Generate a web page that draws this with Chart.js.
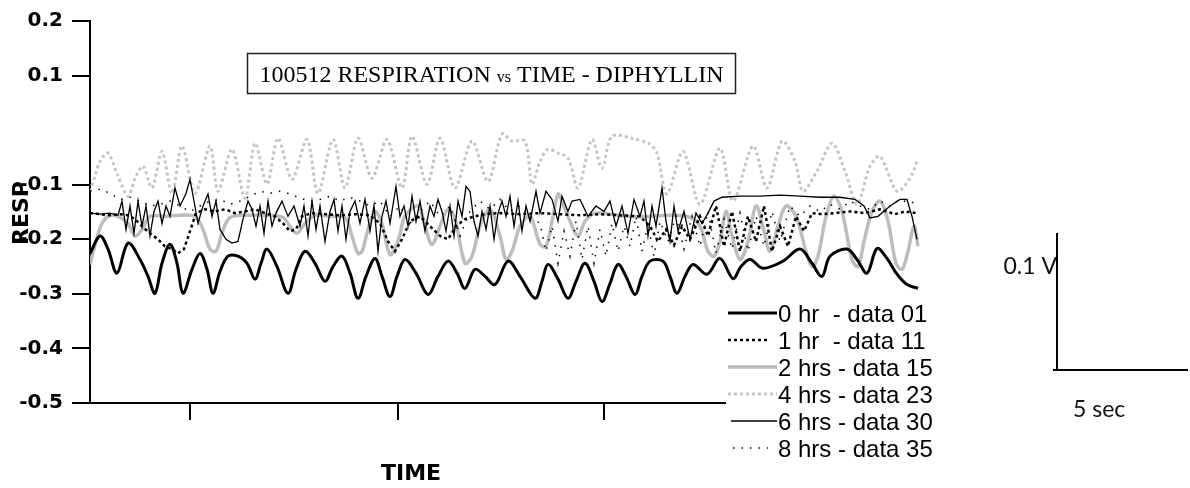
<!DOCTYPE html>
<html lang="en">
<head>
<meta charset="UTF-8" />
<title>100512 RESPIRATION vs TIME - DIPHYLLIN</title>
<script src="https://cdn.jsdelivr.net/npm/chart.js"></script>
<style>
  body { margin: 0; background: #fff; }
  #wrap { width: 1190px; height: 488px; }
</style>
</head>
<body>
<div id="wrap"><canvas id="resp" width="1190" height="488"></canvas></div>
<script>
// tick positions (y in volts, x in time units; x labels are not shown)
const yTicks = [0.2, 0.1, -0.1, -0.2, -0.3, -0.4, -0.5];
const xTicks = [10, 30.8, 51.4, 72];

const seriesLabels = ['0 hr  - data 01', '1 hr  - data 11', '2 hrs - data 15',
                      '4 hrs - data 23', '6 hrs - data 30', '8 hrs - data 35'];

// [time, resp]
const hr0 = [[0,-0.226],[1,-0.194],[1.8,-0.218],[2.7,-0.262],[3.8,-0.207],[5,-0.237],[5.8,-0.268],[6.5,-0.299],
  [7.2,-0.244],[8,-0.209],[8.7,-0.244],[9.3,-0.299],[10.2,-0.255],[11,-0.226],[11.7,-0.255],[12.3,-0.299],
  [13,-0.259],[13.8,-0.231],[14.8,-0.231],[15.7,-0.244],[16.5,-0.273],[17.1,-0.244],[17.7,-0.218],[18.7,-0.250],
  [19.8,-0.299],[20.6,-0.255],[21.5,-0.222],[22.5,-0.244],[23.5,-0.277],[24.3,-0.250],[25.2,-0.231],[26,-0.262],
  [26.8,-0.308],[27.6,-0.268],[28.5,-0.235],[29.2,-0.268],[30,-0.305],[30.7,-0.268],[31.5,-0.237],[32.6,-0.262],
  [33.8,-0.301],[34.8,-0.268],[35.8,-0.240],[36.7,-0.262],[37.5,-0.290],[38.5,-0.255],[39.5,-0.268],[40.5,-0.283],
  [41.8,-0.240],[43,-0.268],[44.5,-0.308],[45.2,-0.277],[45.8,-0.246],[46.8,-0.273],[47.8,-0.308],[48.6,-0.277],
  [49.5,-0.244],[50.4,-0.277],[51.2,-0.314],[52,-0.281],[52.8,-0.246],[53.6,-0.268],[54.5,-0.301],[55.2,-0.268],
  [56,-0.240],[57.3,-0.240],[58,-0.268],[58.7,-0.299],[59.5,-0.268],[60.3,-0.246],[61.7,-0.264],[63,-0.235],
  [64.3,-0.272],[65.1,-0.250],[66,-0.237],[67.3,-0.253],[69.3,-0.240],[71,-0.218],[72.2,-0.244],[73.2,-0.268],
  [74,-0.231],[75.7,-0.218],[76.7,-0.237],[77.7,-0.262],[78.7,-0.217],[79.7,-0.235],[80.7,-0.264],[81.7,-0.283],
  [82.8,-0.290]];

const hr1 = [[0,-0.152],[1,-0.154],[2,-0.156],[3,-0.154],[3.8,-0.156],[4.5,-0.163],[5.2,-0.176],[6,-0.189],
  [6.8,-0.200],[7.5,-0.213],[8.2,-0.218],[8.8,-0.226],[9.4,-0.218],[10,-0.185],[10.6,-0.152],[11.5,-0.145],
  [12.5,-0.149],[13.5,-0.145],[14.5,-0.152],[15.5,-0.149],[16.5,-0.145],[17.5,-0.152],[18.5,-0.158],[19.3,-0.171],
  [20,-0.185],[20.6,-0.182],[21.2,-0.158],[22.2,-0.152],[23.5,-0.154],[25,-0.156],[26.5,-0.154],[28,-0.156],
  [29,-0.171],[29.8,-0.204],[30.5,-0.222],[31.2,-0.200],[32,-0.167],[33,-0.158],[34,-0.176],[35,-0.194],
  [35.8,-0.200],[36.6,-0.176],[37.5,-0.163],[38.5,-0.158],[39.5,-0.154],[41,-0.152],[43,-0.154],[45,-0.152],
  [47,-0.154],[49,-0.156],[51,-0.154],[53,-0.156],[55,-0.158],[56,-0.176],[56.8,-0.204],[57.6,-0.182],
  [58.4,-0.211],[59.2,-0.176],[60,-0.200],[61,-0.158],[61.8,-0.194],[62.6,-0.139],[63.4,-0.213],[64.2,-0.149],
  [65,-0.222],[65.8,-0.158],[66.6,-0.204],[67.4,-0.139],[68.2,-0.222],[69,-0.176],[69.8,-0.213],[70.6,-0.158],
  [71.4,-0.185],[72.2,-0.152],[73.2,-0.154],[74.5,-0.152],[76,-0.149],[77.5,-0.152],[79,-0.145],[80.5,-0.154],
  [81.5,-0.149],[82.7,-0.152]];

const hr2 = [[0,-0.246],[0.6,-0.204],[1.2,-0.171],[2,-0.156],[3,-0.160],[3.8,-0.171],[4.5,-0.194],[5.2,-0.182],
  [6,-0.158],[7.5,-0.158],[9,-0.156],[10.5,-0.158],[11.3,-0.182],[12,-0.218],[12.6,-0.222],[13.2,-0.189],
  [14,-0.160],[16,-0.156],[18,-0.156],[19.3,-0.160],[20,-0.176],[20.7,-0.189],[21.5,-0.171],[22.5,-0.156],
  [24,-0.158],[25.5,-0.160],[26.2,-0.194],[26.8,-0.226],[27.2,-0.222],[27.8,-0.182],[28.5,-0.149],[29.2,-0.171],
  [30,-0.228],[30.8,-0.204],[31.5,-0.158],[32.8,-0.139],[33.5,-0.176],[34.2,-0.209],[35,-0.176],[35.8,-0.145],
  [36.5,-0.163],[37.5,-0.244],[38.2,-0.231],[39,-0.176],[40,-0.145],[41,-0.194],[41.6,-0.237],[42.2,-0.222],
  [43,-0.176],[44,-0.158],[45,-0.209],[45.6,-0.213],[46.2,-0.167],[46.8,-0.117],[47.2,-0.130],[47.8,-0.158],
  [48.8,-0.194],[49.5,-0.167],[50.5,-0.152],[52,-0.154],[54,-0.158],[56,-0.158],[58,-0.156],[60,-0.160],
  [61,-0.176],[61.8,-0.222],[62.4,-0.231],[63,-0.204],[63.6,-0.149],[64.2,-0.194],[65,-0.237],[65.8,-0.204],
  [66.6,-0.139],[67.4,-0.185],[68,-0.222],[68.8,-0.176],[69.6,-0.139],[70.6,-0.158],[71.6,-0.222],[72.2,-0.250],
  [72.8,-0.231],[73.6,-0.158],[74.4,-0.121],[75.2,-0.149],[76.2,-0.237],[76.8,-0.250],[77.4,-0.204],[78.2,-0.149],
  [79,-0.130],[79.8,-0.167],[80.6,-0.244],[81.2,-0.255],[81.8,-0.222],[82.4,-0.176],[82.8,-0.213]];

const hr4 = [[0,-0.112],[0.5,-0.084],[1,-0.057],[1.8,-0.042],[2.8,-0.084],[3.8,-0.121],[4.6,-0.084],[5.3,-0.066],
  [6.2,-0.106],[7.2,-0.039],[8.2,-0.116],[9.2,-0.029],[10.5,-0.116],[12,-0.029],[12.8,-0.112],[14.2,-0.035],
  [15.5,-0.125],[16.5,-0.024],[17.7,-0.099],[18.8,-0.015],[20.2,-0.090],[21.7,-0.017],[22.8,-0.116],[24.3,-0.017],
  [25.5,-0.106],[26.8,-0.015],[28.2,-0.088],[29.7,-0.017],[31.2,-0.106],[32.2,-0.011],[33.7,-0.099],[35,-0.015],
  [36.5,-0.106],[38.2,-0.020],[39.8,-0.094],[41.2,-0.007],[42.2,-0.020],[43.5,-0.020],[44.2,-0.099],[45,-0.057],
  [45.8,-0.035],[46.8,-0.042],[47.8,-0.051],[48.8,-0.106],[50.2,-0.017],[51.2,-0.070],[52.2,-0.011],[54.2,-0.015],
  [56,-0.026],[56.7,-0.042],[57.7,-0.117],[59.3,-0.039],[61,-0.136],[63,-0.033],[64.3,-0.130],[66.3,-0.029],
  [67.7,-0.106],[69.2,-0.020],[70.5,-0.057],[71.3,-0.112],[72.7,-0.075],[74.2,-0.024],[75.5,-0.075],[76.7,-0.136],
  [78,-0.066],[79,-0.048],[80.7,-0.112],[82,-0.088],[82.7,-0.057]];

const hr6 = [[0,-0.152],[1,-0.154],[2,-0.152],[2.8,-0.156],[3.2,-0.130],[3.6,-0.182],[4,-0.139],[4.4,-0.189],
  [4.8,-0.130],[5.2,-0.176],[5.6,-0.139],[6,-0.194],[6.4,-0.149],[6.8,-0.130],[7.2,-0.171],[7.6,-0.139],
  [8,-0.158],[8.5,-0.106],[9,-0.139],[9.6,-0.116],[10,-0.090],[10.4,-0.130],[10.8,-0.171],[11.3,-0.139],
  [11.8,-0.117],[12.2,-0.158],[12.6,-0.130],[13,-0.182],[13.6,-0.200],[14.2,-0.207],[14.8,-0.204],[15.3,-0.163],
  [15.8,-0.130],[16.2,-0.145],[16.6,-0.176],[17,-0.139],[17.4,-0.189],[17.8,-0.130],[18.2,-0.176],[18.6,-0.152],
  [19.2,-0.130],[19.8,-0.158],[20.4,-0.139],[21,-0.176],[21.4,-0.139],[21.8,-0.194],[22.2,-0.130],[22.6,-0.182],
  [23,-0.139],[23.5,-0.204],[24,-0.149],[24.4,-0.127],[24.8,-0.185],[25.2,-0.139],[25.6,-0.200],[26,-0.149],
  [26.5,-0.130],[27,-0.171],[27.5,-0.127],[28,-0.185],[28.4,-0.138],[28.8,-0.222],[29.2,-0.158],[29.6,-0.130],
  [30,-0.171],[30.6,-0.103],[31,-0.158],[31.4,-0.139],[31.8,-0.176],[32.2,-0.121],[32.6,-0.167],[33,-0.130],
  [33.5,-0.185],[34,-0.139],[34.4,-0.158],[34.8,-0.127],[35.2,-0.149],[35.6,-0.185],[36,-0.139],[36.4,-0.194],
  [36.8,-0.130],[37.2,-0.158],[37.6,-0.103],[38,-0.112],[38.4,-0.167],[38.8,-0.194],[39.2,-0.149],[39.6,-0.182],
  [40,-0.139],[40.4,-0.200],[40.8,-0.152],[41.2,-0.130],[41.6,-0.158],[42,-0.121],[42.4,-0.176],[42.8,-0.130],
  [43.2,-0.185],[43.6,-0.139],[44,-0.167],[44.6,-0.112],[45,-0.152],[45.6,-0.112],[46.2,-0.127],[46.8,-0.167],
  [47.2,-0.121],[47.8,-0.149],[48.2,-0.130],[49,-0.127],[49.8,-0.158],[50.6,-0.139],[51.4,-0.149],[52,-0.130],
  [52.6,-0.176],[53.2,-0.139],[53.8,-0.189],[54.4,-0.127],[55,-0.158],[55.4,-0.130],[55.8,-0.194],[56.2,-0.139],
  [56.6,-0.176],[57.2,-0.106],[57.6,-0.167],[58,-0.204],[58.4,-0.139],[58.8,-0.185],[59.4,-0.149],[60,-0.200],
  [60.6,-0.152],[61.2,-0.171],[61.8,-0.152],[62.4,-0.130],[63.2,-0.123],[65,-0.121],[67,-0.121],[69,-0.119],
  [71,-0.121],[73,-0.123],[75,-0.123],[76.5,-0.127],[77.4,-0.139],[78,-0.161],[78.8,-0.158],[80,-0.139],
  [81,-0.127],[81.7,-0.127],[82.2,-0.158],[82.7,-0.200]];

const hr8 = [[0,-0.112],[1,-0.108],[2,-0.116],[3,-0.127],[4,-0.123],[5,-0.130],[6,-0.139],[7,-0.136],
  [8,-0.130],[9,-0.139],[10,-0.149],[11,-0.139],[12,-0.130],[13,-0.127],[14,-0.136],[15,-0.130],
  [16,-0.121],[17,-0.112],[18,-0.116],[19,-0.112],[20,-0.117],[21,-0.125],[22,-0.130],[23,-0.127],
  [24,-0.121],[25,-0.130],[26,-0.123],[27,-0.130],[28,-0.139],[29,-0.130],[30,-0.158],[31,-0.139],
  [32,-0.171],[33,-0.149],[34,-0.130],[35,-0.158],[36,-0.139],[37,-0.194],[38,-0.149],[39,-0.130],
  [40,-0.145],[41,-0.127],[42,-0.149],[43,-0.139],[44,-0.158],[45,-0.171],[45.6,-0.222],[46.2,-0.176],
  [46.8,-0.244],[47.4,-0.185],[48,-0.231],[48.6,-0.167],[49.2,-0.237],[49.8,-0.176],[50.4,-0.244],[51,-0.182],
  [51.6,-0.231],[52.2,-0.171],[52.8,-0.222],[53.4,-0.176],[54,-0.213],[54.6,-0.158],[55.2,-0.222],[55.8,-0.171],
  [56.4,-0.231],[57,-0.167],[57.8,-0.204],[58.6,-0.158],[59.4,-0.218],[60.2,-0.158],[61,-0.213],[61.8,-0.149],
  [62.6,-0.226],[63.4,-0.163],[64.2,-0.218],[65,-0.152],[65.8,-0.222],[66.6,-0.158],[67.4,-0.213],[68.2,-0.149],
  [69,-0.204],[70,-0.139],[71,-0.158],[72,-0.139],[73,-0.149],[74,-0.136],[75,-0.145],[76,-0.130],
  [77,-0.139],[78,-0.145],[79,-0.130],[80,-0.139],[81,-0.127],[82,-0.134],[82.7,-0.130]];

const toXY = pairs => pairs.map(([x, y]) => ({ x, y }));

// title box, axis names, legend and the scale bar
const overlayPlugin = {
  id: 'overlay',
  afterDraw(chart) {
    const ctx = chart.ctx;
    ctx.save();

    // title box
    ctx.fillStyle = '#fff';
    ctx.fillRect(247, 53, 489, 41);
    ctx.strokeStyle = '#222';
    ctx.lineWidth = 1.5;
    ctx.strokeRect(247.5, 53.5, 488, 40);
    const parts = [['100512 RESPIRATION ', 24], ['vs', 16], [' TIME - DIPHYLLIN', 24]];
    let total = 0;
    parts.forEach(([t, s]) => { ctx.font = s + 'px "Liberation Serif"'; total += ctx.measureText(t).width; });
    let tx = 491.5 - total / 2;
    ctx.fillStyle = '#000';
    ctx.textBaseline = 'alphabetic';
    ctx.textAlign = 'left';
    parts.forEach(([t, s]) => {
      ctx.font = s + 'px "Liberation Serif"';
      ctx.fillText(t, tx, 82);
      tx += ctx.measureText(t).width;
    });

    // axis names
    ctx.font = 'bold 22px "DejaVu Sans"';
    ctx.textAlign = 'center';
    ctx.fillText('TIME', 411, 480);
    ctx.save();
    ctx.translate(28, 213);
    ctx.rotate(-Math.PI / 2);
    ctx.fillText('RESP', 0, 0);
    ctx.restore();

    // legend
    ctx.fillStyle = '#fff';
    ctx.fillRect(726, 299, 222, 162);
    ctx.textAlign = 'left';
    const starts = [728, 728, 728, 728, 731, 733];
    const ends = [777, 770, 777, 777, 777, 768];
    chart.data.datasets.forEach((ds, i) => {
      const y = 313 + i * 27;
      ctx.beginPath();
      ctx.setLineDash(ds.borderDash || []);
      ctx.lineWidth = ds.borderWidth;
      ctx.strokeStyle = ds.borderColor;
      ctx.moveTo(starts[i], y);
      ctx.lineTo(ends[i], y);
      ctx.stroke();
      ctx.setLineDash([]);
      ctx.fillStyle = '#000';
      ctx.font = '24px "Liberation Sans"';
      ctx.fillText(ds.label, 778, y + 9);
    });

    // scale bar
    ctx.strokeStyle = '#000';
    ctx.lineWidth = 2;
    ctx.beginPath();
    ctx.moveTo(1057, 233);
    ctx.lineTo(1057, 370);
    ctx.moveTo(1053, 370);
    ctx.lineTo(1188, 370);
    ctx.stroke();
    ctx.fillStyle = '#111';
    ctx.font = '23px Lato';
    ctx.textAlign = 'right';
    ctx.fillText('0.1 V', 1057, 274);
    ctx.textAlign = 'left';
    ctx.fillText('5 sec', 1073, 417);

    ctx.restore();
  }
};

new Chart(document.getElementById('resp'), {
  type: 'line',
  data: {
    datasets: [
      { label: seriesLabels[0], data: toXY(hr0), borderColor: '#000', borderWidth: 3, tension: 0.35, order: 0 },
      { label: seriesLabels[1], data: toXY(hr1), borderColor: '#000', borderWidth: 2.5, borderDash: [3, 3], order: 1 },
      { label: seriesLabels[2], data: toXY(hr2), borderColor: '#bdbdbd', borderWidth: 3.5, tension: 0.35, order: 4 },
      { label: seriesLabels[3], data: toXY(hr4), borderColor: '#c4c4c4', borderWidth: 3, borderDash: [3, 3], tension: 0.3, order: 5 },
      { label: seriesLabels[4], data: toXY(hr6), borderColor: '#000', borderWidth: 1.3, order: 2 },
      { label: seriesLabels[5], data: toXY(hr8), borderColor: '#000', borderWidth: 1.5, borderDash: [1.5, 7], order: 3 }
    ]
  },
  options: {
    responsive: false,
    animation: false,
    devicePixelRatio: 1,
    layout: { padding: { left: 0, right: 270, top: 20, bottom: 0 } },
    elements: { line: { tension: 0, fill: false }, point: { radius: 0 } },
    plugins: { legend: { display: false }, tooltip: { enabled: false } },
    scales: {
      x: {
        type: 'linear',
        min: 0,
        max: 83,
        afterBuildTicks: s => { s.ticks = xTicks.map(v => ({ value: v })); },
        afterFit: s => { s.height = 85; },
        ticks: { display: false },
        grid: { drawOnChartArea: false, drawTicks: true, tickLength: 17, color: '#000', lineWidth: 2 },
        border: { display: true, color: '#000', width: 2 }
      },
      y: {
        min: -0.5,
        max: 0.2,
        afterBuildTicks: s => { s.ticks = yTicks.map(v => ({ value: v })); },
        afterFit: s => { s.width = 90; },
        ticks: {
          padding: 9,
          color: '#000',
          font: { family: 'DejaVu Sans', weight: 'bold', size: 20 },
          callback: v => v.toFixed(1)
        },
        grid: { drawOnChartArea: false, drawTicks: true, tickLength: 18, color: '#000', lineWidth: 2 },
        border: { display: true, color: '#000', width: 2 }
      }
    }
  },
  plugins: [overlayPlugin]
});
</script>
</body>
</html>
